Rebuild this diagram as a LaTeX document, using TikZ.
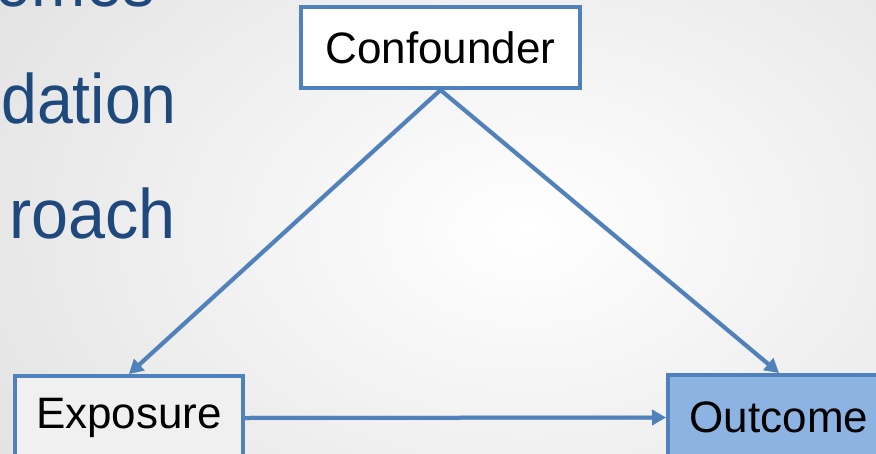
\documentclass[tikz,border=0pt]{standalone}
\usepackage{fontspec}
\setmainfont{Liberation Sans}
\usetikzlibrary{arrows.meta,calc}
\definecolor{accblue}{HTML}{4F81BD}
\definecolor{lightblue}{HTML}{8DB3E2}
\definecolor{darkblue}{HTML}{1F497D}
\definecolor{bgedge}{HTML}{DCDCDC}
\tikzset{
  vbox/.style={draw=accblue, line width=4pt, rectangle, inner sep=0pt, font=\fontsize{44}{50}\selectfont, text=black},
  conn/.style={draw=accblue, line width=4pt, -{Triangle[length=14pt,width=15pt]}},
  connshadow/.style={draw=black, opacity=0.15, line width=4.5pt, -{Triangle[length=14pt,width=15pt]}},
  slidetext/.style={anchor=base east, text=darkblue, font=\fontsize{70}{80}\selectfont, inner sep=0pt}
}
\begin{document}
\begin{tikzpicture}[x=1pt,y=-1pt]
\useasboundingbox (0,0) rectangle (876,453);
\shade[inner color=white, outer color=bgedge] (-250,-300) rectangle (1300,760);
\node[slidetext] (t1) at (155,6) {\scalebox{0.93}[1]{omes}};
\node[slidetext] (t2) at (177,123) {\scalebox{0.92}[1]{dation}};
\node[slidetext] (t3) at (176,238) {\scalebox{0.95}[1]{roach}};
\node[vbox, fill=white, minimum width=279pt, minimum height=81pt] (conf) at (440.5,47.5) {Confounder};
\node[vbox, fill=white!94!black, minimum width=228pt, minimum height=84pt] (expo) at (129,418) {Exposure};
\node[vbox, fill=lightblue, minimum width=222pt, minimum height=85pt] (outc) at (779,417.5) {Outcome};
\begin{scope}[shift={(2,2)}]
\draw[connshadow] (conf.south) -- (expo.north);
\draw[connshadow] (conf.south) -- (outc.north);
\draw[connshadow] (expo.east) -- (outc.west);
\end{scope}
\draw[conn] (conf.south) -- (expo.north);
\draw[conn] (conf.south) -- (outc.north);
\draw[conn] (expo.east) -- (outc.west);
\end{tikzpicture}
\end{document}
